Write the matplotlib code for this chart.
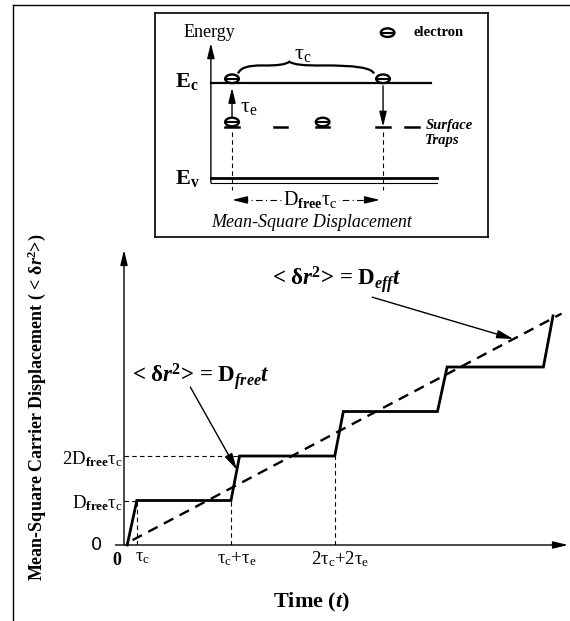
import numpy as np
import matplotlib
matplotlib.use("Agg")
from matplotlib import pyplot as plt
from matplotlib.patches import Ellipse, PathPatch
from matplotlib.path import Path
from matplotlib.lines import Line2D

plt.rcParams['font.family'] = ['Liberation Serif', 'DejaVu Serif']
plt.rcParams['mathtext.fontset'] = 'custom'
plt.rcParams['mathtext.rm'] = 'Liberation Serif'
plt.rcParams['mathtext.it'] = 'Liberation Serif:italic'
plt.rcParams['mathtext.bf'] = 'Liberation Serif:bold'
plt.rcParams['mathtext.bfit'] = 'Liberation Serif:italic:bold'

# Main plot: time (arb. units) vs MSD in units of D_free*tau_c
t_step = [0.3, 1.2, 10.0, 10.8, 19.7, 20.5, 29.3, 30.2, 39.2, 40.1]
msd_step = [0, 1, 1, 2, 2, 3, 3, 4, 4, 5.15]
t_eff = [0.8, 40.9]
msd_eff = [0.11, 5.2]
t_ticks = [1.2, 10.0, 19.7]
t_tick_lbls = [r'τ$_\mathrm{c}$', r'τ$_\mathrm{c}$+τ$_\mathrm{e}$',
               r'2τ$_\mathrm{c}$+2τ$_\mathrm{e}$']
msd_ticks = [1, 2]
msd_tick_lbls = [r'D$_\mathbf{free}$τ$_\mathrm{c}$', r'2D$_\mathbf{free}$τ$_\mathrm{c}$']

# Inset: position in hop lengths, energy with E_v = 0, E_c = 1
e_c, e_v, e_trap = 1.0, 0.0, 0.54
trap_x = [0.0, 0.32, 0.6, 1.0, 1.19]
trapped_x = [0.0, 0.6]
free_x = [0.0, 1.0]

W, H = 570, 621
fig = plt.figure(figsize=(W / 100, H / 100), dpi=100)

# outer frame (top and left edges only, scan is cropped)
fig.add_artist(Line2D([13 / W, 1], [1 - 5 / H] * 2, transform=fig.transFigure,
                      color='k', lw=1.0))
fig.add_artist(Line2D([13 / W] * 2, [0, 1 - 5 / H], transform=fig.transFigure,
                      color='k', lw=1.0))

# ---------------- main plot ----------------
ax = fig.add_axes([124 / W, 76 / H, 444 / W, 295 / H])
ax.set_xlim(0, 41.5)
ax.set_ylim(0, 6.63)
ax.axis('off')

arrow_kw = dict(arrowstyle='-|>,head_length=0.9,head_width=0.22', color='k',
                lw=1.0, shrinkA=0, shrinkB=0, mutation_scale=10)
ax.annotate('', xy=(41.5, 0), xytext=(-0.8, 0), arrowprops=arrow_kw,
            annotation_clip=False)
ax.annotate('', xy=(0, 6.63), xytext=(0, 0), arrowprops=arrow_kw,
            annotation_clip=False)

ax.plot(t_step, msd_step, color='k', lw=2.0, solid_joinstyle='miter', clip_on=False)
ax.plot(t_eff, msd_eff, color='k', lw=1.7, dashes=(4.5, 3), clip_on=False)

# guide lines
for tt, yy in zip(t_ticks, [1, 1, 2]):
    ax.plot([tt, tt], [0, yy], color='k', lw=0.8, dashes=(4, 3))
ax.plot([0, t_step[1]], [1, 1], color='k', lw=0.8, dashes=(4, 3))
ax.plot([0, t_step[3]], [2, 2], color='k', lw=0.8, dashes=(4, 3))

for tt, lbl in zip(t_ticks, t_tick_lbls):
    ax.annotate(lbl, xy=(tt, 0), xytext=(4, -3), textcoords='offset points',
                ha='center', va='top', fontsize=13.5)
ax.annotate('0', xy=(0, 0), xytext=(-5, -5), textcoords='offset points',
            ha='center', va='top', fontsize=13, fontweight='bold')
ax.annotate('0', xy=(0, 0), xytext=(-20, 0), textcoords='offset points',
            ha='center', va='center', fontsize=13, family='DejaVu Sans')
for yy, lbl in zip(msd_ticks, msd_tick_lbls):
    ax.annotate(lbl, xy=(0, yy), xytext=(-1, -2), textcoords='offset points',
                ha='right', va='center', fontsize=13.5)

lbl_free = r'< δ$\mathbfit{r}^{\mathbf{2}}$> = D$_{\mathbfit{free}}\mathbfit{t}$'
lbl_eff = r'< δ$\mathbfit{r}^{\mathbf{2}}$> = D$_{\mathbfit{eff}}\mathbfit{t}$'
thin_arrow = dict(arrowstyle='-|>,head_length=1.0,head_width=0.25', color='k',
                  lw=1.0, shrinkA=0, shrinkB=0, mutation_scale=10)
ax.text(0.75, 3.78, lbl_free, fontsize=16.5, fontweight='bold', ha='left',
        va='center')
ax.annotate('', xy=(10.55, 1.69), xytext=(6.2, 3.55), arrowprops=thin_arrow)
ax.text(13.8, 5.96, lbl_eff, fontsize=16.5, fontweight='bold', ha='left',
        va='center')
ax.annotate('', xy=(36.4, 4.63), xytext=(23.2, 5.57), arrowprops=thin_arrow)

fig.text(37 / W, 1 - 407 / H,
         r'Mean-Square Carrier Displacement ( < δ$\mathbfit{r}^{\mathbf{2}}$>)',
         rotation=90, ha='center', va='center', fontsize=13, fontweight='bold')
fig.text(312 / W, 1 - 602 / H, r'Time ($\mathbfit{t}$)', ha='center',
         va='center', fontsize=16, fontweight='bold')

# ---------------- inset ----------------
ins = fig.add_axes([155 / W, 1 - 237 / H, 333 / W, 224 / H])
ins.set_xlim(-0.51, 1.695)
ins.set_ylim(-0.62, 1.737)
ins.set_xticks([])
ins.set_yticks([])
for sp in ins.spines.values():
    sp.set_linewidth(1.2)


def draw_electron(a, x, y):
    a.add_patch(Ellipse((x, y), 0.09, 0.09, facecolor='white',
                        edgecolor='k', lw=1.7, zorder=5))
    a.plot([x - 0.045, x + 0.045], [y, y], color='k', lw=1.5, zorder=6)


ins.annotate('', xy=(-0.14, 1.42), xytext=(-0.14, -0.05), arrowprops=arrow_kw)
ins.plot([-0.14, 1.36], [-0.05, -0.05], color='k', lw=0.8)
ins.plot([-0.14, 1.36], [e_v, e_v], color='k', lw=2.0)
ins.plot([-0.14, 1.32], [e_c, e_c], color='k', lw=1.6)

for x in trap_x:
    ins.plot([x - 0.045, x + 0.045], [e_trap, e_trap], color='k', lw=1.8)
for x in trapped_x:
    draw_electron(ins, x, e_trap + 0.05)
for x in free_x:
    draw_electron(ins, x, e_c + 0.045)

ins.annotate('', xy=(0, 0.95), xytext=(0, 0.64), arrowprops=arrow_kw)
ins.annotate('', xy=(1.0, e_trap), xytext=(1.0, 0.97), arrowprops=arrow_kw)
ins.text(0.05, 0.74, r'τ$_\mathrm{e}$', fontsize=16, ha='left', va='center')

for x in free_x:
    ins.plot([x, x], [0.48, -0.13], color='k', lw=0.8, dashes=(4, 3))

# brace for tau_c
verts = [(0.04, 1.10), (0.06, 1.19), (0.2, 1.185), (0.35, 1.18), (0.38, 1.225),
         (0.41, 1.18), (0.6, 1.185), (0.92, 1.19), (0.94, 1.10)]
codes = [Path.MOVETO] + [Path.CURVE3] * 8
ins.add_patch(PathPatch(Path(verts, codes), fill=False, lw=1.6, edgecolor='k'))
ins.text(0.47, 1.3, r'τ$_\mathrm{c}$', fontsize=16, ha='center', va='center')

# hop length arrow
ins.plot([0.06, 0.92], [-0.23, -0.23], color='k', lw=0.8, dashes=(6, 3, 1, 3))
ins.annotate('', xy=(0.0, -0.23), xytext=(0.08, -0.23), arrowprops=arrow_kw)
ins.annotate('', xy=(0.98, -0.23), xytext=(0.9, -0.23), arrowprops=arrow_kw)
ins.text(0.52, -0.23, r'D$_\mathbf{free}$τ$_\mathrm{c}$', fontsize=14.5,
         ha='center', va='center',
         bbox=dict(facecolor='white', edgecolor='none', pad=1))
ins.text(0.53, -0.47, 'Mean-Square Displacement', fontsize=13, style='italic',
         ha='center', va='center')

ins.text(-0.32, 1.53, 'Energy', fontsize=13, ha='left', va='center')
draw_electron(ins, 1.03, 1.53)
ins.text(1.2, 1.53, 'electron', fontsize=10.5, fontweight='bold', ha='left',
         va='center')
ins.text(-0.38, 1.02, r'E$_\mathbf{c}$', fontsize=16, fontweight='bold',
         ha='left', va='center')
ins.text(-0.38, 0.0, r'E$_\mathbf{v}$', fontsize=16, fontweight='bold',
         ha='left', va='center')
ins.text(1.28, 0.55, 'Surface', fontsize=10.5, fontweight='bold',
         style='italic', ha='left', va='center')
ins.text(1.28, 0.40, 'Traps', fontsize=10.5, fontweight='bold',
         style='italic', ha='left', va='center')

fig.savefig('out.png', dpi=100, facecolor='white')
